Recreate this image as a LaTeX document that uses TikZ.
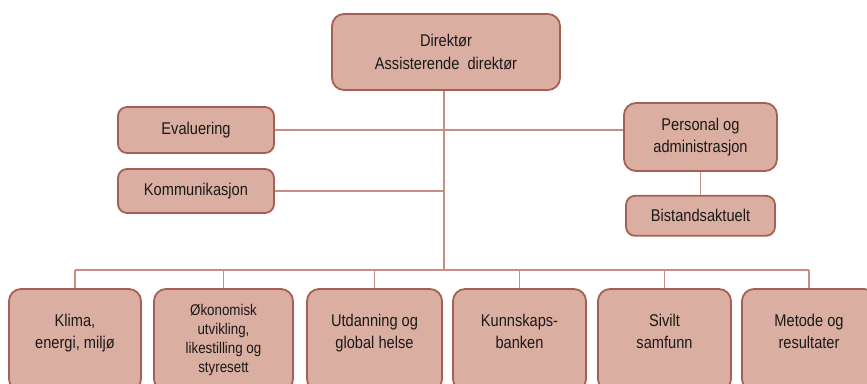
\documentclass[tikz,border=0pt]{standalone}
\usepackage{fontspec}
\setmainfont{Liberation Sans}[FakeStretch=0.86]
\usepackage{tikz}
\usetikzlibrary{positioning}
\definecolor{boxfill}{HTML}{DBAEA2}
\definecolor{boxline}{HTML}{A65F52}
\definecolor{wire}{HTML}{C49084}
\tikzset{
  unit/.style={draw=boxline, line width=1.8pt, fill=boxfill, rounded corners=12pt,
    align=center, text=black!90, font=\fontsize{17}{22}\selectfont, inner sep=2pt},
  staff/.style={unit, rounded corners=9pt},
  dept/.style={unit, minimum width=133pt, minimum height=102pt},
  link/.style={draw=wire, line width=1.1pt}
}

\begin{document}
\begin{tikzpicture}[x=1pt, y=-1pt]
  \useasboundingbox (0,0) rectangle (867,383);
  \clip (0,0) rectangle (867,383);
  % Define nodes
  \node[unit, minimum width=228pt, minimum height=76pt] (dir) at (446,52)
    {Direktør\\[1pt]Assisterende\ \ direktør};
  \node[staff, minimum width=156pt, minimum height=46pt] (eval) at (196,130) {Evaluering};
  \node[staff, minimum width=156pt, minimum height=44pt] (komm) at (196,191) {Kommunikasjon};
  \node[unit, minimum width=153pt, minimum height=68pt] (pers) at (700.5,137)
    {Personal og\\administrasjon};
  \node[staff, minimum width=149pt, minimum height=40pt, below=23pt of pers] (bist) {Bistandsaktuelt};
  \coordinate (bus) at (444,270);

  % bottom row (text sits a little above the middle)
  \node[dept, minimum width=132pt] (klima) at (75,340) {Klima,\\energi, miljø\\[-4pt]\mbox{}};
  \node[dept, minimum width=139pt, font=\fontsize{15.5}{19}\selectfont] (okon) at (223.5,340)
    {Økonomisk\\utvikling,\\likestilling og\\styresett};
  \node[dept, minimum width=135pt] (utd) at (374.5,340) {Utdanning og\\global helse\\[-4pt]\mbox{}};
  \node[dept] (kunn) at (519.5,340) {Kunnskaps-\\banken\\[-4pt]\mbox{}};
  \node[dept] (siv) at (664.5,340) {Sivilt\\samfunn\\[-4pt]\mbox{}};
  \node[dept, minimum width=134pt] (met) at (809,340) {Metode og\\resultater\\[-4pt]\mbox{}};

  % Connect the nodes
  \draw[link] (dir.south -| bus) -- (bus);
  \draw[link] (eval.east) -- (eval.east -| pers.west);
  \draw[link] (komm.east) -- (komm.east -| bus);
  \draw[link] (pers.south) -- (bist.north);
  \draw[link] (klima.north |- bus) -- (met.north |- bus);
  \foreach \d in {klima,okon,utd,kunn,siv,met}
    \draw[link] (\d.north |- bus) -- (\d.north);
\end{tikzpicture}
\end{document}
